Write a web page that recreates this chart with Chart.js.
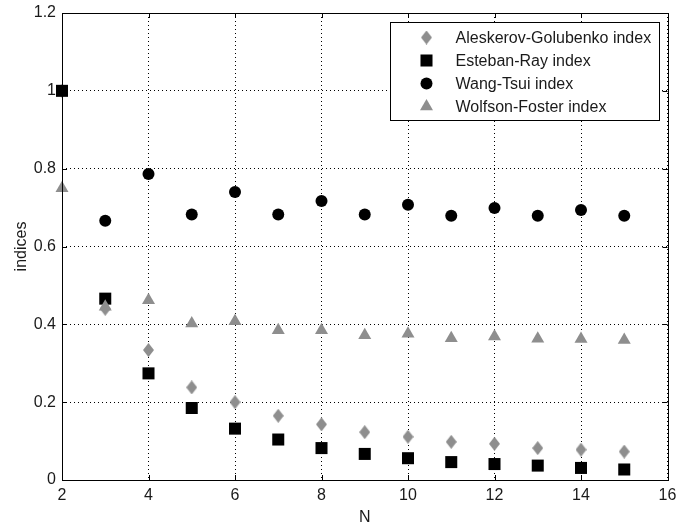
<!DOCTYPE html>
<html>
<head>
<meta charset="utf-8">
<script src="https://cdn.jsdelivr.net/npm/chart.js@4/dist/chart.umd.min.js"></script>
<style>
  html, body { margin: 0; padding: 0; background: #fff; }
  #wrap { width: 676px; height: 527px; }
</style>
</head>
<body>
<div id="wrap"><canvas id="chart"></canvas></div>
<script>
// values
const nValues = [2, 3, 4, 5, 6, 7, 8, 9, 10, 11, 12, 13, 14, 15];
const aleskerovGolubenko = [1.0, 0.44, 0.334, 0.238, 0.2, 0.165, 0.143, 0.123, 0.111, 0.098, 0.093, 0.082, 0.078, 0.073];
const estebanRay = [1.0, 0.466, 0.274, 0.185, 0.132, 0.104, 0.082, 0.067, 0.056, 0.046, 0.041, 0.037, 0.031, 0.027];
const wangTsui = [null, 0.666, 0.786, 0.682, 0.740, 0.682, 0.717, 0.682, 0.707, 0.679, 0.699, 0.679, 0.694, 0.679];
const wolfsonFoster = [0.75, 0.445, 0.462, 0.402, 0.408, 0.385, 0.385, 0.372, 0.376, 0.364, 0.369, 0.363, 0.362, 0.360];
const xTicks = [2, 4, 6, 8, 10, 12, 14, 16];
const yTicks = [0, 0.2, 0.4, 0.6, 0.8, 1, 1.2];

const gray = '#8e8e8e', black = '#000';
const font = "'Liberation Sans', Arial, sans-serif";
const textCol = '#1a1a1a';

// matlab style diamond (taller than wide)
const diamond = document.createElement('canvas');
diamond.width = 11; diamond.height = 14;
(() => {
  const g = diamond.getContext('2d');
  g.fillStyle = gray;
  g.beginPath();
  g.moveTo(5.5, 0); g.lineTo(11, 7); g.lineTo(5.5, 14); g.lineTo(0, 7);
  g.closePath(); g.fill();
})();

const pts = arr => nValues.map((n, i) => ({ x: n, y: arr[i] })).filter(p => p.y !== null);

// inward ticks, box frame and legend
const matlabAxes = {
  id: 'matlabAxes',
  afterDraw(chart) {
    const { ctx, chartArea: a, scales: { x, y } } = chart;
    ctx.save();
    ctx.strokeStyle = '#000';
    ctx.lineWidth = 1;
    ctx.beginPath();
    xTicks.forEach(v => {
      const px = Math.round(x.getPixelForValue(v)) + 0.5;
      ctx.moveTo(px, a.bottom); ctx.lineTo(px, a.bottom - 5);
      ctx.moveTo(px, a.top); ctx.lineTo(px, a.top + 5);
    });
    yTicks.forEach(v => {
      const py = Math.round(y.getPixelForValue(v)) + 0.5;
      ctx.moveTo(a.left, py); ctx.lineTo(a.left + 5, py);
      ctx.moveTo(a.right, py); ctx.lineTo(a.right - 5, py);
    });
    ctx.stroke();
    ctx.strokeRect(Math.round(a.left) + 0.5, Math.round(a.top) + 0.5,
                   Math.round(a.right - a.left), Math.round(a.bottom - a.top));

    // legend box
    const items = chart.data.datasets;
    ctx.font = '16px ' + font;
    const tw = Math.max(...items.map(d => ctx.measureText(d.label).width));
    const w = Math.round(65 + tw + 8), h = 98;
    const lx = Math.round(a.right - 9 - w) + 0.5, ly = Math.round(a.top + 9) + 0.5;
    ctx.fillStyle = '#fff';
    ctx.fillRect(lx, ly, w, h);
    ctx.strokeStyle = '#000';
    ctx.strokeRect(lx, ly, w, h);
    ctx.textBaseline = 'middle';
    items.forEach((d, i) => {
      const cy = ly + 15 + i * 23;
      ctx.fillStyle = d.backgroundColor;
      ctx.strokeStyle = d.borderColor;
      Chart.helpers.drawPoint(ctx, { pointStyle: d.pointStyle, radius: d.pointRadius, borderWidth: 0 }, lx + 36, cy);
      ctx.fillStyle = textCol;
      ctx.fillText(d.label, lx + 65, cy + 1);
    });
    ctx.restore();
  }
};

new Chart(document.getElementById('chart'), {
  type: 'scatter',
  data: {
    datasets: [
      { label: 'Aleskerov-Golubenko index', data: pts(aleskerovGolubenko), order: 3,
        pointStyle: diamond, pointRadius: 7, backgroundColor: gray, borderColor: gray, borderWidth: 0 },
      { label: 'Esteban-Ray index', data: pts(estebanRay), order: 2,
        pointStyle: 'rect', pointRadius: 8.5, backgroundColor: black, borderColor: black, borderWidth: 0 },
      { label: 'Wang-Tsui index', data: pts(wangTsui), order: 1,
        pointStyle: 'circle', pointRadius: 6, backgroundColor: black, borderColor: black, borderWidth: 0 },
      { label: 'Wolfson-Foster index', data: pts(wolfsonFoster), order: 0,
        pointStyle: 'triangle', pointRadius: 7.5, backgroundColor: gray, borderColor: gray, borderWidth: 0 }
    ]
  },
  plugins: [matlabAxes],
  options: {
    responsive: true, maintainAspectRatio: false, animation: false,
    layout: { padding: { top: 13, right: 6, left: 0, bottom: 0 } },
    clip: false,
    plugins: { legend: { display: false }, tooltip: { enabled: false } },
    scales: {
      x: {
        min: 2, max: 16,
        afterBuildTicks: s => { s.ticks = xTicks.map(v => ({ value: v })); },
        afterFit: s => { s.height = 47; s.paddingLeft = 0; s.paddingRight = 0; },
        grid: { color: '#000', lineWidth: 1, drawTicks: false },
        border: { display: false, dash: [1, 3] },
        ticks: { padding: 6, color: textCol, font: { family: font, size: 16 }, maxRotation: 0, callback: v => String(v) },
        title: { display: true, text: 'N', color: textCol, font: { family: font, size: 16 }, padding: { top: 0, bottom: 0 } }
      },
      y: {
        min: 0, max: 1.2,
        afterBuildTicks: s => { s.ticks = yTicks.map(v => ({ value: v })); },
        afterFit: s => { s.width = 62; s.paddingTop = 0; s.paddingBottom = 0; },
        grid: { color: '#000', lineWidth: 1, drawTicks: false },
        border: { display: false, dash: [1, 3] },
        ticks: { padding: 6, color: textCol, font: { family: font, size: 16 }, callback: v => String(v) },
        title: { display: true, text: 'indices', color: textCol, font: { family: font, size: 16 }, padding: { top: 12, bottom: 0 } }
      }
    }
  }
});
</script>
</body>
</html>
